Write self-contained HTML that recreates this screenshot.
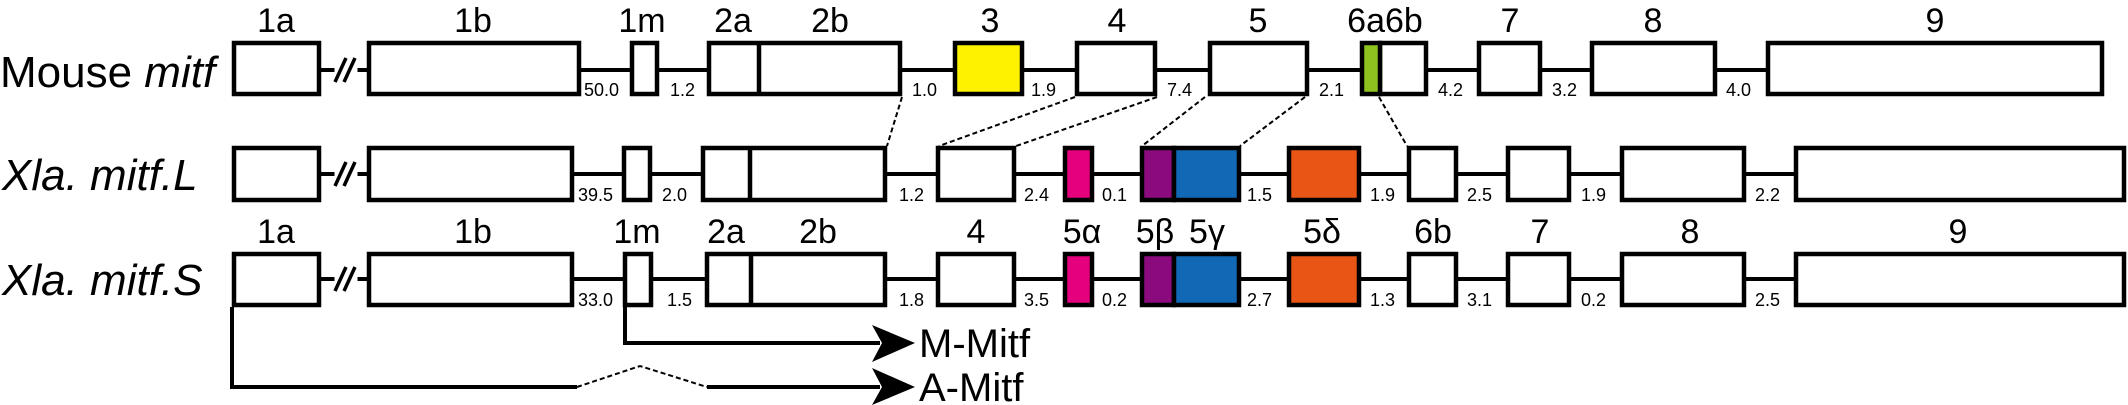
<!DOCTYPE html>
<html><head><meta charset="utf-8"><style>html,body{margin:0;padding:0;background:#fff}svg{display:block}svg text{font-family:"Liberation Sans",Arial,sans-serif}</style></head><body>
<svg width="2128" height="405" xmlns="http://www.w3.org/2000/svg">
<g stroke="#000" stroke-width="4">
<line x1="321" y1="70" x2="2104" y2="70"/>
<line x1="321" y1="174" x2="2126" y2="174"/>
<line x1="321" y1="279" x2="2126" y2="279"/>
</g>
<g fill="#fff" stroke="#fff">
<rect x="335" y="60" width="22" height="22"/><rect x="335" y="164" width="22" height="22"/><rect x="335" y="269" width="22" height="22"/>
</g>
<g stroke="#000" stroke-width="3.5">
<line x1="335" y1="82" x2="346" y2="58"/><line x1="344" y1="82" x2="355" y2="58"/>
<line x1="335" y1="186" x2="346" y2="162"/><line x1="344" y1="186" x2="355" y2="162"/>
<line x1="335" y1="291" x2="346" y2="267"/><line x1="344" y1="291" x2="355" y2="267"/>
</g>
<g stroke="#000" stroke-width="4.5" fill="#fff">
<rect x="234" y="43" width="85" height="51"/>
<rect x="369" y="43" width="210" height="51"/>
<rect x="632" y="43" width="25" height="51"/>
<rect x="709" y="43" width="191" height="51"/><line x1="759" y1="43" x2="759" y2="94"/>
<rect x="955" y="43" width="67" height="51" fill="#fff200"/>
<rect x="1077" y="43" width="78" height="51"/>
<rect x="1210" y="43" width="97" height="51"/>
<rect x="1380" y="43" width="46" height="51"/>
<rect x="1362" y="43" width="18" height="51" fill="#8dc21f"/>
<rect x="1479" y="43" width="61" height="51"/>
<rect x="1592" y="43" width="123" height="51"/>
<rect x="1768" y="43" width="334" height="51"/>
<rect x="234" y="148" width="85" height="52"/>
<rect x="369" y="148" width="203" height="52"/>
<rect x="624" y="148" width="26" height="52"/>
<rect x="703" y="148" width="182" height="52"/><line x1="750" y1="148" x2="750" y2="200"/>
<rect x="938" y="148" width="76" height="52"/>
<rect x="1065" y="148" width="27" height="52" fill="#e5007e"/>
<rect x="1142" y="148" width="32" height="52" fill="#8b0a7e"/>
<rect x="1174" y="148" width="65" height="52" fill="#1169b5"/>
<rect x="1289" y="148" width="70" height="52" fill="#e85514"/>
<rect x="1409" y="148" width="47" height="52"/>
<rect x="1508" y="148" width="61" height="52"/>
<rect x="1622" y="148" width="122" height="52"/>
<rect x="1796" y="148" width="328" height="52"/>
<rect x="234" y="254" width="85" height="51"/>
<rect x="369" y="254" width="203" height="51"/>
<rect x="625" y="254" width="26" height="51"/>
<rect x="707" y="254" width="178" height="51"/><line x1="751" y1="254" x2="751" y2="305"/>
<rect x="938" y="254" width="76" height="51"/>
<rect x="1065" y="254" width="27" height="51" fill="#e5007e"/>
<rect x="1142" y="254" width="32" height="51" fill="#8b0a7e"/>
<rect x="1174" y="254" width="65" height="51" fill="#1169b5"/>
<rect x="1289" y="254" width="70" height="51" fill="#e85514"/>
<rect x="1409" y="254" width="47" height="51"/>
<rect x="1508" y="254" width="61" height="51"/>
<rect x="1622" y="254" width="122" height="51"/>
<rect x="1796" y="254" width="328" height="51"/>
</g>
<g stroke="#000" stroke-width="2" stroke-dasharray="5,3" fill="none">
<line x1="902" y1="97" x2="887" y2="146"/>
<line x1="1075" y1="97" x2="939" y2="146"/>
<line x1="1157" y1="97" x2="1016" y2="146"/>
<line x1="1205" y1="97" x2="1142" y2="146"/>
<line x1="1305" y1="97" x2="1240" y2="146"/>
<line x1="1379" y1="97" x2="1407" y2="146"/>
<polyline points="577,387 640,366 707,387"/>
</g>
<g stroke="#000" stroke-width="4" fill="none">
<polyline points="625,307 625,343 880,343"/>
<polyline points="232,307 232,387 577,387"/>
<line x1="707" y1="387" x2="880" y2="387"/>
</g>
<polygon points="872,325 915,343 872,362 882,343" fill="#000"/>
<polygon points="872,368 915,387 872,405 882,387" fill="#000"/>
<g font-size="40" fill="#000">
<text x="919" y="357">M-Mitf</text>
<text x="919" y="401">A-Mitf</text>
</g>
<g font-size="44" fill="#000">
<text x="0" y="87">Mouse <tspan font-style="italic">mitf</tspan></text>
<text x="2" y="190" font-style="italic">Xla. mitf.L</text>
<text x="2" y="295" font-style="italic">Xla. mitf.S</text>
</g>
<g font-size="34" fill="#000" text-anchor="middle">
<text x="276" y="32">1a</text><text x="473" y="32">1b</text><text x="642" y="32">1m</text>
<text x="733" y="32">2a</text><text x="830" y="32">2b</text><text x="990" y="32">3</text>
<text x="1117" y="32">4</text><text x="1258" y="32">5</text><text x="1385" y="32">6a6b</text>
<text x="1510" y="32">7</text><text x="1653" y="32">8</text><text x="1935" y="32">9</text>
<text x="276" y="243">1a</text><text x="473" y="243">1b</text><text x="637" y="243">1m</text>
<text x="726" y="243">2a</text><text x="818" y="243">2b</text><text x="976" y="243">4</text>
<text x="1082" y="243">5α</text><text x="1155" y="243">5β</text><text x="1207" y="243">5γ</text>
<text x="1322" y="243">5δ</text><text x="1433" y="243">6b</text><text x="1540" y="243">7</text>
<text x="1690" y="243">8</text><text x="1958" y="243">9</text>
</g>
<g font-size="18" fill="#000">
<text x="584" y="96">50.0</text><text x="670" y="96">1.2</text><text x="912" y="96">1.0</text>
<text x="1031" y="96">1.9</text><text x="1167" y="96">7.4</text><text x="1319" y="96">2.1</text>
<text x="1438" y="96">4.2</text><text x="1552" y="96">3.2</text><text x="1726" y="96">4.0</text>
<text x="578" y="201">39.5</text><text x="662" y="201">2.0</text><text x="899" y="201">1.2</text>
<text x="1024" y="201">2.4</text><text x="1102" y="201">0.1</text><text x="1247" y="201">1.5</text>
<text x="1370" y="201">1.9</text><text x="1467" y="201">2.5</text><text x="1581" y="201">1.9</text>
<text x="1755" y="201">2.2</text>
<text x="578" y="306">33.0</text><text x="667" y="306">1.5</text><text x="899" y="306">1.8</text>
<text x="1024" y="306">3.5</text><text x="1102" y="306">0.2</text><text x="1247" y="306">2.7</text>
<text x="1370" y="306">1.3</text><text x="1467" y="306">3.1</text><text x="1581" y="306">0.2</text>
<text x="1755" y="306">2.5</text>
</g>
</svg>
</body></html>
